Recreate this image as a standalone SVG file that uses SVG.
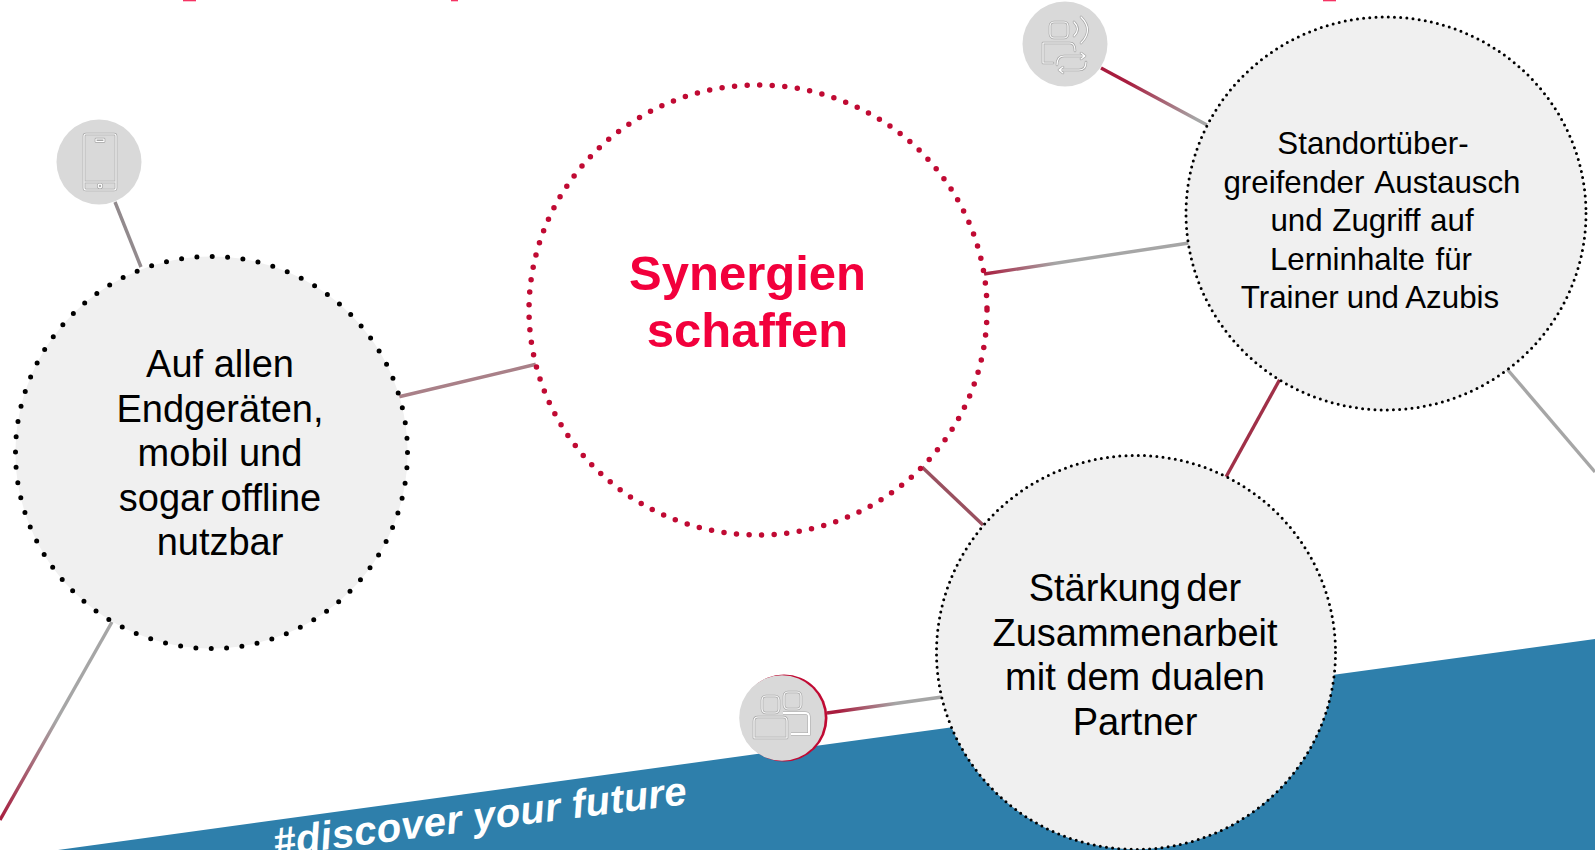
<svg xmlns="http://www.w3.org/2000/svg" width="1595" height="850" viewBox="0 0 1595 850">
<style>
.ring{fill:#f0f0f0;stroke:#000;stroke-linecap:round}
.lbl{font-family:"Liberation Sans",Arial,sans-serif;fill:#000;text-anchor:middle}
.big{font-size:38px}
.small{font-size:31.3px}
.head{font-family:"Liberation Sans",Arial,sans-serif;font-weight:bold;font-size:49px;fill:#f2003c;text-anchor:middle}
.conn{fill:none;stroke-width:3.4}
.disc{fill:#d9d9d9}
.ie{fill:none;stroke:#a6a6a6;stroke-width:2.6;stroke-linejoin:round;stroke-linecap:round}
.iw{fill:none;stroke:#fff;stroke-width:1.2;stroke-linejoin:round;stroke-linecap:round}
</style>
<defs>
<linearGradient id="g1" gradientUnits="userSpaceOnUse" x1="1101" y1="68" x2="1207" y2="125"><stop offset="0.25" stop-color="#a81c3e"/><stop offset="0.9" stop-color="#a6a6a6"/></linearGradient>
<linearGradient id="g3" gradientUnits="userSpaceOnUse" x1="827" y1="713" x2="942" y2="697"><stop offset="0.1" stop-color="#a81c3e"/><stop offset="0.6" stop-color="#a6a6a6"/></linearGradient>
<linearGradient id="g4" gradientUnits="userSpaceOnUse" x1="984" y1="274" x2="1189" y2="243"><stop offset="0" stop-color="#a81c3e"/><stop offset="0.35" stop-color="#a6a6a6"/></linearGradient>
<linearGradient id="g9" gradientUnits="userSpaceOnUse" x1="112" y1="622" x2="0" y2="820"><stop offset="0.5" stop-color="#a6a6a6"/><stop offset="1" stop-color="#a81c3e"/></linearGradient>
<g id="iconPhone">
<rect x="84" y="134" width="32" height="56" rx="2"/>
<rect x="96" y="139" width="8" height="2.5"/>
<path d="M85 182H115"/>
<circle cx="100" cy="186" r="1.8"/>
</g>
<g id="iconTalk">
<rect x="1050" y="22" width="18" height="16" rx="4"/>
<path d="M1053 63H1043V43H1070Q1075 43 1075 51"/>
<path d="M1074 22Q1081 29 1074 36M1081 17Q1094 30 1081 43"/>
<path d="M1057 65Q1057 56 1064 56H1084M1081 53L1085 56L1081 59"/>
<path d="M1086 62Q1086 70 1079 70H1060M1063 67L1059 70L1063 73"/>
</g>
<g id="iconTeam">
<rect x="762" y="696" width="17" height="17" rx="4"/>
<rect x="784" y="692" width="17" height="17" rx="4"/>
<path d="M754 738V721Q754 717 758 717H783Q787 717 787 721V738Z"/>
</g>
</defs>

<rect width="1595" height="850" fill="#fff"/>
<polygon points="58,850 1595,639 1595,850" fill="#2e7fab"/>
<g fill="#f2003c" opacity="0.8">
<rect x="183" y="0" width="13" height="1.3"/>
<rect x="451" y="0" width="7" height="1.3"/>
<rect x="1323" y="0" width="13" height="1.3"/>
</g>
<text transform="translate(275 856) rotate(-7.2)" font-family="'Liberation Sans',Arial,sans-serif" font-weight="bold" font-style="italic" font-size="40" letter-spacing="0.35" fill="#fff">#discover your future</text>

<g id="connectors">
<line class="conn" x1="1101" y1="68" x2="1207" y2="125" stroke="url(#g1)"/>
<line class="conn" x1="115" y1="202" x2="141" y2="267" stroke="#928a8d"/>
<line class="conn" x1="827" y1="713" x2="942" y2="697" stroke="url(#g3)"/>
<line class="conn" x1="984" y1="274" x2="1189" y2="243" stroke="url(#g4)"/>
<line class="conn" x1="922" y1="467" x2="983" y2="525" stroke="#99505f"/>
<line class="conn" x1="1280" y1="379" x2="1226" y2="477" stroke="#a03048"/>
<line class="conn" x1="398" y1="397" x2="537" y2="364" stroke="#a98088"/>
<line class="conn" x1="1507" y1="369" x2="1595" y2="472" stroke="#a6a6a6"/>
<line class="conn" x1="112" y1="622" x2="0" y2="820" stroke="url(#g9)"/>
</g>

<g id="node-synergien">
<ellipse cx="758" cy="310" rx="229" ry="225" fill="#fff" stroke="#c00a33" stroke-width="5.5" stroke-linecap="round" stroke-dasharray="0 12.6"/>
<text class="head" x="747.5" y="290">Synergien</text>
<text class="head" x="747.5" y="347">schaffen</text>
</g>

<g id="node-endgeraete">
<circle class="ring" cx="211.5" cy="452.5" r="196" stroke-width="5" stroke-dasharray="0 15.4"/>
<text class="lbl big" x="220" y="377">Auf allen</text>
<text class="lbl big" x="220" y="422">Endgeräten,</text>
<text class="lbl big" x="220" y="466">mobil und</text>
<text class="lbl big" x="220" y="511" word-spacing="-4">sogar offline</text>
<text class="lbl big" x="220" y="555">nutzbar</text>
</g>

<g id="node-standort">
<ellipse class="ring" cx="1386" cy="213.5" rx="200" ry="196.5" stroke-width="3" stroke-dasharray="0 6.2"/>
<text class="lbl small" x="1373" y="154">Standortüber-</text>
<text class="lbl small" x="1372" y="193" word-spacing="3">greifender Austausch</text>
<text class="lbl small" x="1372" y="231" word-spacing="1">und Zugriff auf</text>
<text class="lbl small" x="1371" y="270" word-spacing="2">Lerninhalte für</text>
<text class="lbl small" x="1370" y="308" word-spacing="-0.7">Trainer und Azubis</text>
</g>

<g id="node-partner">
<ellipse class="ring" cx="1136" cy="652.4" rx="199.5" ry="197" stroke-width="3" stroke-dasharray="0 6.2"/>
<text class="lbl big" x="1135" y="601" word-spacing="-5">Stärkung der</text>
<text class="lbl big" x="1135" y="646">Zusammenarbeit</text>
<text class="lbl big" x="1135" y="690">mit dem dualen</text>
<text class="lbl big" x="1135" y="735">Partner</text>
</g>

<g id="icon-phone">
<circle class="disc" cx="99" cy="162" r="42.5"/>
<use href="#iconPhone" class="ie"/>
<use href="#iconPhone" class="iw"/>
</g>

<g id="icon-talk">
<circle class="disc" cx="1065" cy="44" r="42.5"/>
<use href="#iconTalk" class="ie"/>
<use href="#iconTalk" class="iw"/>
</g>

<g id="icon-team">
<circle cx="784" cy="718" r="43.5" fill="#c00a33"/>
<circle class="disc" cx="782" cy="718" r="42.8"/>
<use href="#iconTeam" class="ie"/>
<use href="#iconTeam" class="iw"/>
<path d="M783 713H805Q809 713 809 717V734H791" fill="none" stroke="#a6a6a6" stroke-width="3"/>
<path d="M783 713H805Q809 713 809 717V734H791" fill="none" stroke="#fff" stroke-width="2"/>
</g>
</svg>
